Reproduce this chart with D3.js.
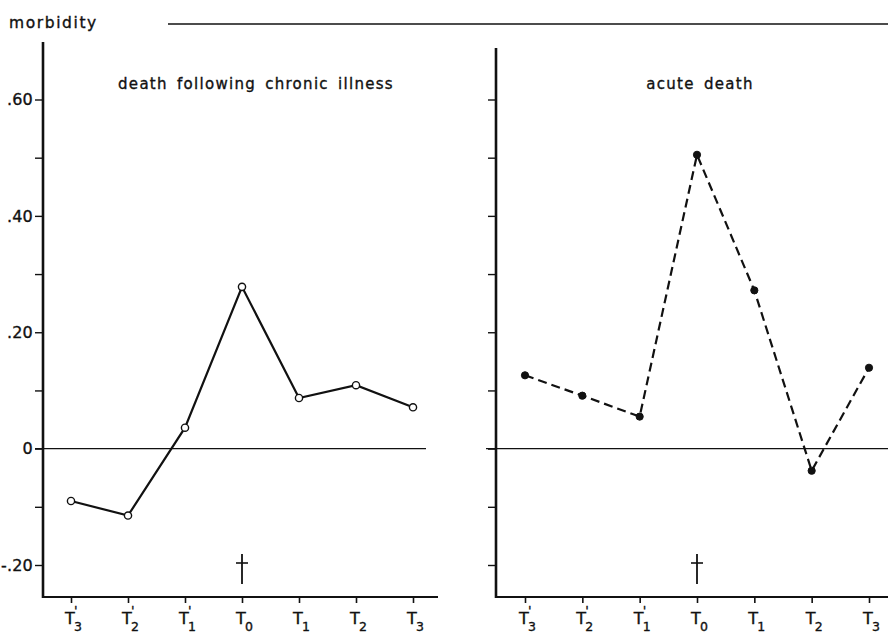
<!DOCTYPE html>
<html lang="en">
<head>
<meta charset="UTF-8">
<title>morbidity</title>
<script src="https://cdnjs.cloudflare.com/ajax/libs/d3/7.8.5/d3.min.js"></script>
<style>
  body { margin: 0; background: #fff; }
  svg text { font-family: "DejaVu Sans", "Liberation Sans", sans-serif; fill: #111; stroke: #111; stroke-width: 0.35; }
</style>
</head>
<body>
<div id="chart"></div>
<script>
// data
const periods = ["T'3", "T'2", "T'1", "T0", "T1", "T2", "T3"];
const subs = ["3", "2", "1", "0", "1", "2", "3"];
const primes = [true, true, true, false, false, false, false];
const chronic = [-0.09, -0.115, 0.036, 0.278, 0.087, 0.109, 0.071];
const acute = [0.126, 0.091, 0.055, 0.505, 0.272, -0.038, 0.139];
const yTicks = [-0.2, -0.1, 0, 0.1, 0.2, 0.3, 0.4, 0.5, 0.6];
const yLabels = { "-0.2": "-.20", "0": "0", "0.2": ".20", "0.4": ".40", "0.6": ".60" };
const titles = ["death following chronic illness", "acute death"];

const W = 888, H = 633;
const svg = d3.select("#chart").append("svg").attr("width", W).attr("height", H);

const y = d3.scaleLinear().domain([-0.2, 0.6]).range([565, 99.5]);

// top label and rule
svg.append("text").attr("x", 9).attr("y", 28).attr("font-size", 15.5)
  .attr("letter-spacing", 1.6).text("morbidity");
svg.append("line").attr("x1", 168).attr("x2", W).attr("y1", 24).attr("y2", 24)
  .attr("stroke", "#111").attr("stroke-width", 1.5);

const panels = [
  { axisX: 43, top: 42, right: 438, zeroFrom: 35, zeroTo: 426, xr: [71, 413], vals: chronic, dashed: false, filled: false, title: titles[0], titleX: 256, labels: true },
  { axisX: 496, top: 48, right: W + 2, zeroFrom: 486, zeroTo: W + 2, xr: [525, 869], vals: acute, dashed: true, filled: true, title: titles[1], titleX: 700, labels: false }
];
const bottom = 597;

panels.forEach(p => {
  const g = svg.append("g");
  const x = d3.scalePoint().domain(periods).range(p.xr);

  // y axis ticks
  const yAxis = d3.axisLeft(y).tickValues(yTicks).tickSize(8).tickPadding(2)
    .tickFormat(d => p.labels ? (yLabels[String(+d.toFixed(1))] || "") : "");
  const ya = g.append("g").attr("transform", `translate(${p.axisX},0)`).call(yAxis);
  ya.select(".domain").remove();
  ya.selectAll(".tick line").attr("stroke", "#111").attr("stroke-width", 1.4);
  ya.selectAll(".tick text").attr("font-size", 16).attr("letter-spacing", 0.2);

  // x axis ticks
  const xAxis = d3.axisBottom(x).tickSize(6).tickFormat("");
  const xa = g.append("g").attr("transform", `translate(0,${bottom})`).call(xAxis);
  xa.select(".domain").remove();
  xa.selectAll(".tick line").attr("stroke", "#111").attr("stroke-width", 1.6);

  // axis lines
  g.append("line").attr("x1", p.axisX).attr("x2", p.axisX).attr("y1", p.top).attr("y2", bottom + 1)
    .attr("stroke", "#111").attr("stroke-width", 2.6);
  g.append("line").attr("x1", p.axisX).attr("x2", p.right).attr("y1", bottom).attr("y2", bottom)
    .attr("stroke", "#111").attr("stroke-width", 2.2);
  g.append("line").attr("x1", p.zeroFrom).attr("x2", p.zeroTo).attr("y1", y(0)).attr("y2", y(0))
    .attr("stroke", "#111").attr("stroke-width", 1.3);

  // x labels: T with subscript, prime above the subscript
  periods.forEach((d, i) => {
    const cx = x(d);
    g.append("text").attr("x", cx - 6).attr("y", 624).attr("font-size", 16).text("T");
    g.append("text").attr("x", cx + 3).attr("y", 631).attr("font-size", 12.5).text(subs[i]);
    if (primes[i]) {
      g.append("text").attr("x", cx + 3).attr("y", 615).attr("font-size", 13).text("'");
    }
  });

  // title
  g.append("text").attr("x", p.titleX).attr("y", 89).attr("text-anchor", "middle")
    .attr("font-size", 15).attr("letter-spacing", 1.3).attr("word-spacing", 3).text(p.title);

  // dagger at T0
  const dx = x("T0");
  g.append("line").attr("x1", dx).attr("x2", dx).attr("y1", 554).attr("y2", 584)
    .attr("stroke", "#111").attr("stroke-width", 1.8);
  g.append("line").attr("x1", dx - 6).attr("x2", dx + 6).attr("y1", 563).attr("y2", 563)
    .attr("stroke", "#111").attr("stroke-width", 1.6);

  // series line
  const line = d3.line().x((d, i) => x(periods[i])).y(d => y(d));
  g.append("path").datum(p.vals).attr("d", line).attr("fill", "none")
    .attr("stroke", "#111").attr("stroke-width", 2.2)
    .attr("stroke-dasharray", p.dashed ? "9,5" : null);

  g.selectAll("circle").data(p.vals).join("circle")
    .attr("cx", (d, i) => x(periods[i])).attr("cy", d => y(d))
    .attr("r", 3.6)
    .attr("fill", p.filled ? "#111" : "#fff")
    .attr("stroke", "#111").attr("stroke-width", p.filled ? 1 : 1.4);
});
</script>
</body>
</html>
